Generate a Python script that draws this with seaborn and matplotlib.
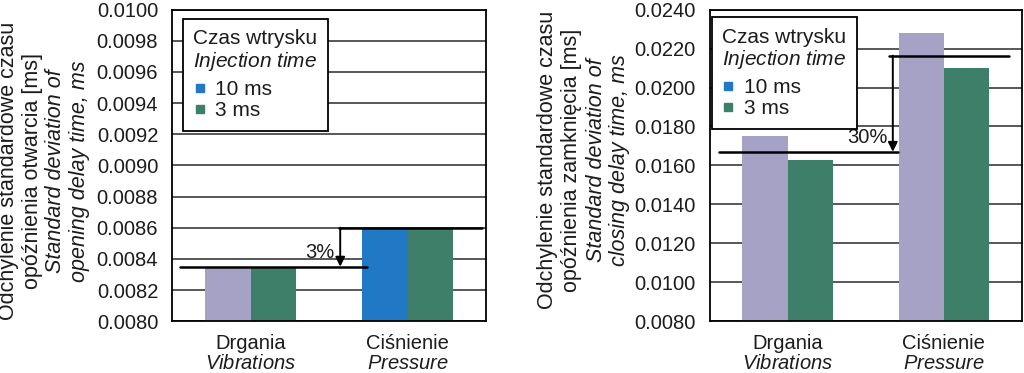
import numpy as np
import pandas as pd
import matplotlib.pyplot as plt
import seaborn as sns
from matplotlib.lines import Line2D
from matplotlib.ticker import MultipleLocator, FormatStrFormatter

# dane
categories = ["Drgania", "Ciśnienie"]
categories_en = ["Vibrations", "Pressure"]
series = ["10 ms", "3 ms"]

open_10ms = [0.00835, 0.0086]
open_3ms = [0.00835, 0.0086]
close_10ms = [0.0175, 0.0228]
close_3ms = [0.0163, 0.0210]

# poziomy linii pomocniczych i opis roznicy
open_levels = [0.00835, 0.0086]
close_levels = [0.0167, 0.02164]
open_pct = "3%"
close_pct = "30%"

open_ylim = [0.0080, 0.0100]
close_ylim = [0.0080, 0.0240]

open_ylabel = ["Odchylenie standardowe czasu", "opóźnienia otwarcia [ms]",
               "Standard deviation of", "opening delay time, ms"]
close_ylabel = ["Odchylenie standardowe czasu", "opóźnienia zamknięcia [ms]",
                "Standard deviation of", "closing delay time, ms"]

LAV = "#a6a2c6"
BLUE = "#2178c4"
GREEN = "#3d7f68"
TXT = "#1c1c1c"
FS = 14.5

sns.set_style("white")
plt.rcParams["font.family"] = ["Liberation Sans", "DejaVu Sans"]
plt.rcParams["mathtext.fontset"] = "custom"
plt.rcParams["mathtext.rm"] = "Liberation Sans"
plt.rcParams["mathtext.it"] = "Liberation Sans:italic"
plt.rcParams["mathtext.bf"] = "Liberation Sans:bold"


def draw_panel(ax, v10, v3, colors10, ylim, step, levels, pct, line_lo, line_hi, arrow_x, legend_pos):
    df = pd.DataFrame({
        "cat": categories * 2,
        "val": v10 + v3,
        "ser": [series[0]] * 2 + [series[1]] * 2,
    })
    sns.barplot(data=df, x="cat", y="val", hue="ser", order=categories,
                hue_order=series, palette=[LAV, GREEN], width=0.58,
                saturation=1, legend=False, ax=ax)
    # kolory poszczegolnych slupkow
    for p in ax.patches:
        cx = p.get_x() + p.get_width() / 2
        ci = int(round(cx))
        if cx < ci:
            p.set_facecolor(colors10[ci])
        else:
            p.set_facecolor(GREEN)
        p.set_edgecolor("none")

    ax.set_xlim(-0.5, 1.5)
    ax.set_ylim(*ylim)
    ax.yaxis.set_major_locator(MultipleLocator(step))
    ax.yaxis.set_major_formatter(FormatStrFormatter("%.4f"))
    ax.set_axisbelow(True)
    ax.yaxis.grid(True, color="#2a2a2a", lw=1.1)
    ax.xaxis.grid(False)
    ax.set_xlabel("")
    ax.set_ylabel("")

    ax.set_xticks([0, 1])
    ax.set_xticklabels([f"{c}\n$\\it{{{e}}}$" for c, e in zip(categories, categories_en)])
    ax.set_xticks([-0.5, 0.5, 1.5], minor=True)
    ax.tick_params(axis="x", which="major", length=0, pad=9, labelsize=FS, labelcolor=TXT)
    ax.tick_params(axis="x", which="minor", length=4, width=1.2, direction="out", color="k")
    ax.tick_params(axis="y", length=4, width=1.2, direction="out", color="k",
                   pad=6, labelsize=FS, labelcolor=TXT)
    for lbl in ax.get_xticklabels():
        lbl.set_linespacing(1.12)
    for s in ax.spines.values():
        s.set_visible(True)
        s.set_color("k")
        s.set_linewidth(1.3)

    # linie pomocnicze + strzalka
    lo, hi = levels
    ax.plot(line_lo, [lo, lo], color="k", lw=1.8, zorder=4)
    ax.plot(line_hi, [hi, hi], color="k", lw=1.8, zorder=4)
    ax.annotate("", xy=(arrow_x, lo), xytext=(arrow_x, hi),
                arrowprops=dict(arrowstyle="-|>", color="k", lw=1.4,
                                mutation_scale=14, shrinkA=0, shrinkB=0), zorder=5)
    ax.annotate(pct, xy=(arrow_x, lo), xytext=(-4, 6.5), textcoords="offset points",
                ha="right", va="baseline", fontsize=FS, color=TXT)

    handles = [Line2D([], [], marker="s", ls="", color=c, markersize=6)
               for c in [BLUE, GREEN]]
    leg = ax.legend(handles, series, title="Czas wtrysku\n$\\it{Injection\\ time}$",
                    loc="upper left", bbox_to_anchor=legend_pos, borderaxespad=0,
                    frameon=True, fancybox=False, edgecolor="k", framealpha=1,
                    fontsize=15, title_fontsize=15, alignment="left",
                    handlelength=0.6, handletextpad=0.45, labelspacing=0.1,
                    borderpad=0.5)
    leg.get_frame().set_linewidth(1.3)
    for t in leg.get_texts():
        t.set_color(TXT)
    leg.get_title().set_color(TXT)
    leg.get_title().set_linespacing(1.1)
    leg._legend_box.sep = 5
    leg.set_zorder(6)


def draw_ylabel(lines, xs_px, y_px):
    for i, (txt, x) in enumerate(zip(lines, xs_px)):
        fig.text(x / 1024, 1 - y_px / 373, txt, rotation=90, ha="center", va="center",
                 fontsize=15.5, color=TXT, style="italic" if i >= 2 else "normal")


fig = plt.figure(figsize=(10.24, 3.73), dpi=100)
ax1 = fig.add_axes([0.168, 0.139, 0.307, 0.835])
ax2 = fig.add_axes([0.693, 0.139, 0.305, 0.835])

draw_panel(ax1, open_10ms, open_3ms, [LAV, BLUE], open_ylim, 0.0002,
           open_levels, open_pct, [-0.45, 0.74], [0.56, 1.47], 0.57, (0.035, 0.970))
draw_panel(ax2, close_10ms, close_3ms, [LAV, LAV], close_ylim, 0.0020,
           close_levels, close_pct, [-0.44, 0.705], [0.647, 1.417], 0.673, (0.006, 0.976))

draw_ylabel(open_ylabel, [9, 33, 56, 80], 171)
draw_ylabel(close_ylabel, [548, 572, 596, 620], 160)

fig.savefig("out.png", dpi=100)
